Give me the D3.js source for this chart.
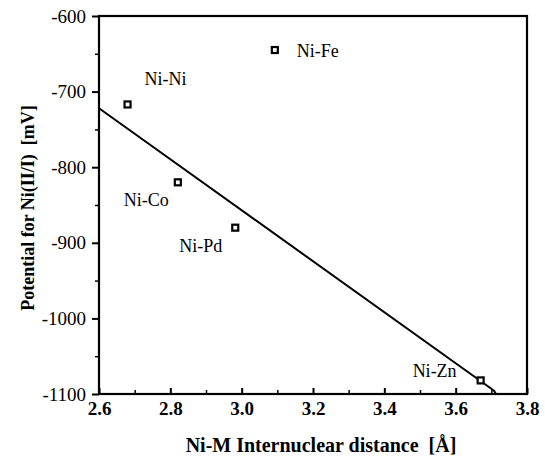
<!DOCTYPE html>
<html>
<head>
  <meta charset="utf-8">
  <title></title>
  <script src="https://cdnjs.cloudflare.com/ajax/libs/d3/7.8.5/d3.min.js"></script>
  <style>
    body { margin: 0; background: #fff; }
  </style>
</head>
<body>
<script>
const width = 545;
const height = 463;
const serif = '"Liberation Serif", "Times New Roman", serif';

// data
const pairs = ['Ni-Ni', 'Ni-Co', 'Ni-Pd', 'Ni-Fe', 'Ni-Zn'];
const distance = [2.68, 2.821, 2.982, 3.093, 3.67];
const potential = [-717, -820, -880, -645, -1082];
// fitted line as drawn (with the small hook at the end)
const lineX = [2.6, 3.70, 3.708, 3.713];
const lineY = [-722, -1093, -1096, -1100];
const xTicks = [2.6, 2.8, 3.0, 3.2, 3.4, 3.6, 3.8];
const yTicks = [-600, -700, -800, -900, -1000, -1100];

// label offsets from the marker (px)
const labelDx = [17, -54, -56, 22, -68];
const labelDy = [-19, 24, 24, 7, -3];

const xScale = d3.scaleLinear().domain([2.6, 3.8]).range([99, 527]);
const yScale = d3.scaleLinear().domain([-1100, -600]).range([394, 16]);

const svg = d3.select('body').append('svg')
  .attr('width', width)
  .attr('height', height);

// frame
svg.append('rect')
  .attr('x', xScale(2.6)).attr('y', yScale(-600))
  .attr('width', xScale(3.8) - xScale(2.6))
  .attr('height', yScale(-1100) - yScale(-600))
  .attr('fill', 'none').attr('stroke', '#000').attr('stroke-width', 2.2);

// y axis: outward ticks
const gy = svg.append('g')
  .attr('transform', `translate(${xScale(2.6)},0)`)
  .call(d3.axisLeft(yScale).tickValues(yTicks).tickSize(7).tickPadding(6));
gy.select('.domain').remove();
gy.selectAll('line').attr('stroke-width', 2);
gy.selectAll('text')
  .style('font-family', serif)
  .style('font-size', '19px')
  .text(d => String(d));

svg.append('g')
  .attr('transform', `translate(${xScale(2.6)},0)`)
  .call(d3.axisLeft(yScale).tickValues(d3.range(-1050, -600, 100)).tickSize(4).tickFormat(''))
  .call(g => g.select('.domain').remove())
  .selectAll('line').attr('stroke-width', 1.5);

// x axis: inward ticks
const gx = svg.append('g')
  .attr('transform', `translate(0,${yScale(-1100)})`)
  .call(d3.axisBottom(xScale).tickValues(xTicks).tickSize(-6).tickPadding(8)
    .tickFormat(d3.format('.1f')));
gx.select('.domain').remove();
gx.selectAll('line').attr('stroke-width', 2);
gx.selectAll('text')
  .style('font-family', serif)
  .style('font-size', '19px')
  .style('font-weight', 'bold');

svg.append('g')
  .attr('transform', `translate(0,${yScale(-1100)})`)
  .call(d3.axisBottom(xScale).tickValues([2.7, 2.9, 3.1, 3.3, 3.5, 3.7]).tickSize(-4).tickFormat(''))
  .call(g => g.select('.domain').remove())
  .selectAll('line').attr('stroke-width', 1.5);

// axis titles
svg.append('text')
  .attr('x', 321).attr('y', 452)
  .attr('text-anchor', 'middle')
  .style('font-family', serif)
  .style('white-space', 'pre')
  .style('font-size', '20px').style('font-weight', 'bold')
  .text('Ni-M Internuclear distance  [Å]');

svg.append('text')
  .attr('transform', 'translate(34,208) rotate(-90)')
  .attr('text-anchor', 'middle')
  .style('font-family', serif)
  .style('white-space', 'pre')
  .style('font-size', '18px').style('font-weight', 'bold')
  .text('Potential for Ni(II/I)  [mV]');

// fitted line
svg.append('path')
  .datum(lineX.map((x, i) => [x, lineY[i]]))
  .attr('fill', 'none')
  .attr('stroke', '#000')
  .attr('stroke-width', 2)
  .attr('d', d3.line().x(d => xScale(d[0])).y(d => yScale(d[1])));

// points
const pts = pairs.map((p, i) => ({name: p, x: distance[i], y: potential[i], dx: labelDx[i], dy: labelDy[i]}));

svg.append('g').selectAll('rect')
  .data(pts).enter()
  .append('rect')
  .attr('x', d => xScale(d.x) - 3)
  .attr('y', d => yScale(d.y) - 3)
  .attr('width', 6).attr('height', 6)
  .attr('fill', '#fff').attr('stroke', '#000').attr('stroke-width', 2.2);

svg.append('g').selectAll('text')
  .data(pts).enter()
  .append('text')
  .attr('x', d => xScale(d.x) + d.dx)
  .attr('y', d => yScale(d.y) + d.dy)
  .style('font-family', serif)
  .style('font-size', '18px')
  .text(d => d.name);
</script>
</body>
</html>
